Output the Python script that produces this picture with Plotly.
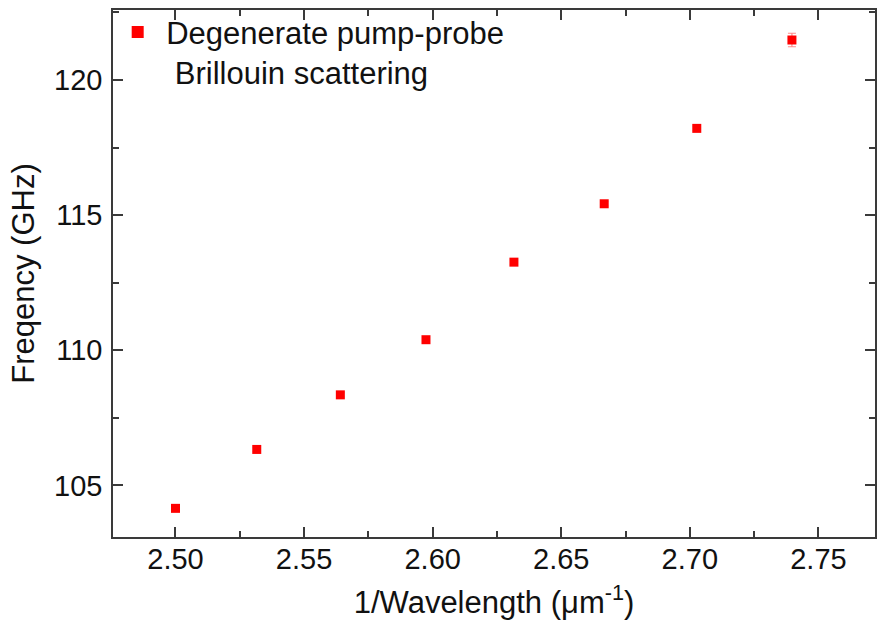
import plotly.graph_objects as go

inv_wavelength = [2.5000, 2.5316, 2.5641, 2.5974, 2.6316, 2.6667, 2.7027, 2.7397]
frequency_ghz = [104.15, 106.33, 108.35, 110.39, 113.26, 115.42, 118.21, 121.48]
frequency_err = [0.08, 0.08, 0.08, 0.08, 0.08, 0.08, 0.08, 0.25]
x_ticks = [2.50, 2.55, 2.60, 2.65, 2.70, 2.75]
y_ticks = [105, 110, 115, 120]

FONT = "Arial, Liberation Sans, sans-serif"

fig = go.Figure()
fig.add_trace(go.Scatter(
    x=inv_wavelength, y=frequency_ghz, mode="markers",
    name="Degenerate pump-probe<br> Brillouin scattering",
    marker=dict(symbol="square", size=9, color="#ff0000", line=dict(width=0)),
    error_y=dict(type="data", array=frequency_err, visible=True,
                 color="rgba(255,0,0,0.45)", thickness=1.2, width=4),
))

axis_common = dict(
    showline=True, linecolor="#3a3a3a", linewidth=1.6, mirror="allticks",
    ticks="inside", ticklen=10, tickwidth=1.6, tickcolor="#3a3a3a",
    showgrid=False, zeroline=False,
    tickfont=dict(family=FONT, size=29, color="#111"),
    title_font=dict(family=FONT, size=31, color="#111"),
)

fig.update_xaxes(
    range=[2.4757, 2.7720], tickvals=x_ticks,
    ticktext=[f"{v:.2f}" for v in x_ticks],
    minor=dict(ticks="inside", ticklen=6, dtick=0.025, tick0=2.5,
               tickwidth=1.6, tickcolor="#3a3a3a", showgrid=False),
    title=dict(text="1/Wavelength (\u03bcm<sup>-1</sup>)", standoff=18),
    ticklabelstandoff=-5,
    **axis_common,
)
fig.update_yaxes(
    range=[103.09, 122.59], tickvals=y_ticks,
    minor=dict(ticks="inside", ticklen=6, dtick=2.5, tick0=105,
               tickwidth=1.6, tickcolor="#3a3a3a", showgrid=False),
    title=dict(text="Freqency (GHz)", standoff=10),
    ticklabelstandoff=3,
    **axis_common,
)

fig.update_layout(
    width=878, height=624,
    margin=dict(l=113, r=1, t=10, b=87, pad=0),
    paper_bgcolor="white", plot_bgcolor="white",
    showlegend=True,
    legend=dict(x=-0.005, y=1.009, xanchor="left", yanchor="top",
                bgcolor="rgba(0,0,0,0)", valign="top", itemwidth=47,
                font=dict(family=FONT, size=31, color="#111"),
                itemsizing="constant"),
)

fig.write_html("out.html")
